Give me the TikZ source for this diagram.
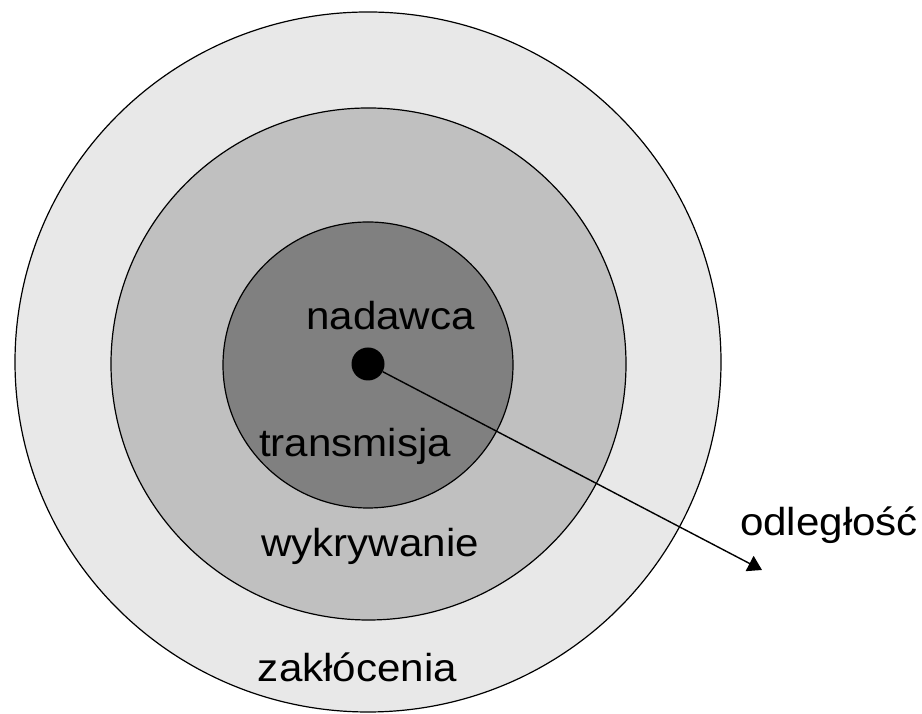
\documentclass[tikz,border=0pt]{standalone}
\usepackage{fontspec}
\setmainfont{Liberation Sans}
\usepackage{xcolor}
\usepackage{tikz}
\usetikzlibrary{arrows.meta,
                positioning,
                shapes.geometric}

\definecolor{outergray}{HTML}{E8E8E8}
\definecolor{midgray}{HTML}{C0C0C0}
\definecolor{innergray}{HTML}{808080}

\tikzset{zone/.style={ellipse, draw, line width=1.2pt, inner sep=0pt},
         lbl/.style={font=\fontsize{39}{44}\selectfont, inner sep=0pt, anchor=base,
                     xscale=1.08, transform shape}}

\begin{document}
\begin{tikzpicture}[x=1pt, y=1pt]
\useasboundingbox (0,0) rectangle (922,714);
\node[zone, fill=outergray, minimum width=706pt, minimum height=700pt] (outer) at (368,352) {};
\node[zone, fill=midgray, minimum width=515pt, minimum height=512pt] (middle) at (368.5,350) {};
\node[zone, fill=innergray, minimum width=290pt, minimum height=286pt] (inner) at (368,349) {};
\node[circle, fill=black, minimum size=33pt, inner sep=0pt] (sender) at (368,350) {};
\coordinate (tip) at (762,144);
\draw[line width=1.4pt, -{Triangle[length=14pt, width=17pt]}] (sender) -- (tip);

\node[lbl] (nadawca) at (390.5,384) {nadawca};
\node[lbl] (transmisja) at (355,257) {transmisja};
\node[lbl] (wykrywanie) at (370,157) {wykrywanie};
\node[lbl] (zaklocenia) at (357.5,32) {zakłócenia};
\node[lbl] (odleglosc) at (829,178) {odległość};

\end{tikzpicture}
\end{document}
